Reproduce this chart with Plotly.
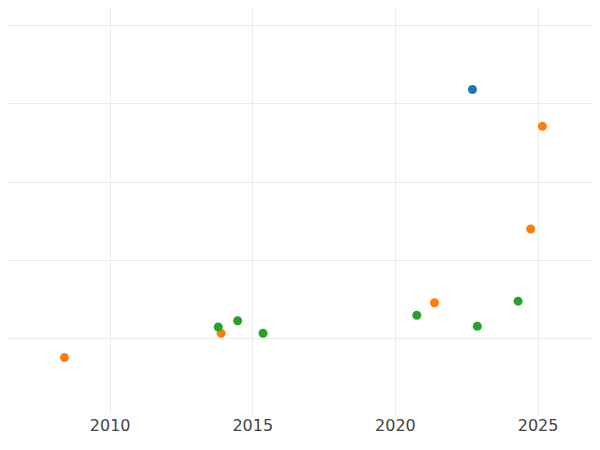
import plotly.graph_objects as go

# Values (x in decimal years)
blue_x = [2022.70]
blue_y = [4.18]
orange_x = [2025.15, 2024.74, 2021.37, 2013.89, 2008.40]
orange_y = [3.71, 2.40, 1.46, 1.07, 0.76]
green_x = [2013.79, 2014.47, 2015.36, 2020.75, 2022.87, 2024.30]
green_y = [1.15, 1.23, 1.07, 1.30, 1.16, 1.48]

fig = go.Figure()
for xs, ys, color in [(blue_x, blue_y, '#1f77b4'),
                      (orange_x, orange_y, '#ff7f0e'),
                      (green_x, green_y, '#2ca02c')]:
    fig.add_trace(go.Scatter(x=xs, y=ys, mode='markers',
                             marker=dict(color=color, size=9)))

fig.update_layout(
    margin=dict(l=0, r=0, t=0, b=28),
    showlegend=False,
    plot_bgcolor='white', paper_bgcolor='white',
    font=dict(family='DejaVu Sans', size=16, color='#444'),
)
fig.update_xaxes(range=[2006.42, 2026.89], tickvals=[2010, 2015, 2020, 2025],
                 showgrid=True, gridcolor='#ebebeb', zeroline=False)
fig.update_yaxes(range=[0.04, 5.22], tickvals=[1, 2, 3, 4, 5],
                 showticklabels=False, showgrid=True, gridcolor='#ebebeb',
                 zeroline=False)

fig.write_html("out.html", default_width="100%", default_height="100%")
